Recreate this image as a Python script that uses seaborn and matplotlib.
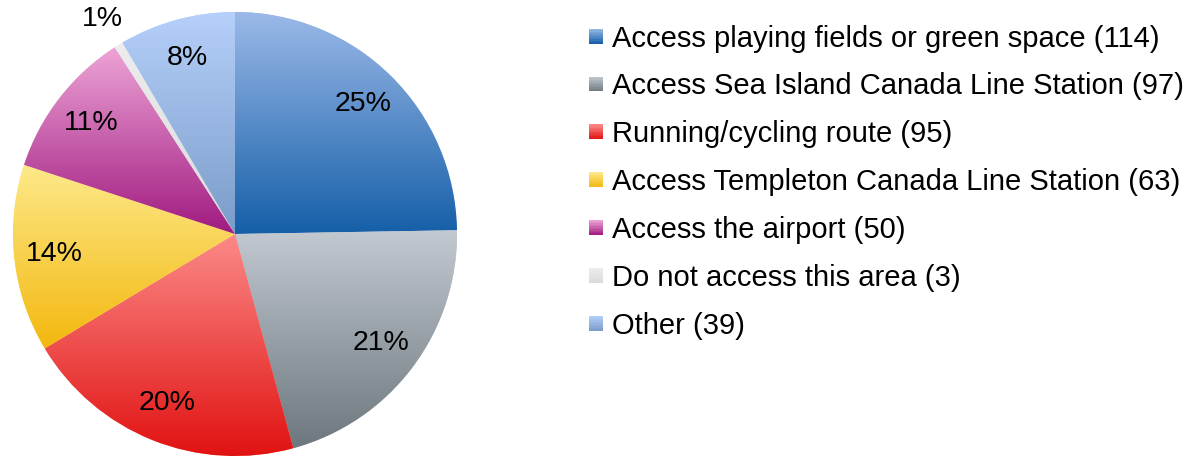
import matplotlib
matplotlib.use("Agg")
import matplotlib.pyplot as plt
import numpy as np
import seaborn as sns
from matplotlib.patches import Rectangle
from matplotlib.legend_handler import HandlerBase

categories = [
    "Access playing fields or green space",
    "Access Sea Island Canada Line Station",
    "Running/cycling route",
    "Access Templeton Canada Line Station",
    "Access the airport",
    "Do not access this area",
    "Other",
]
counts = [114, 97, 95, 63, 50, 3, 39]
pct_labels = ["25%", "21%", "20%", "14%", "11%", "1%", "8%"]
top_colors = ["#9BB9E8", "#C3C9D0", "#FB8A88", "#FDE98A", "#EDA4D6", "#EDEDED", "#B5D0FA"]
bottom_colors = ["#155FA8", "#6C777E", "#E0100F", "#F3B80F", "#A01A80", "#DADADA", "#7A9CC8"]

sns.set_theme(style="white")
plt.rcParams["font.family"] = ["Liberation Sans", "DejaVu Sans"]
plt.rcParams["text.color"] = "black"

W, H = 1201, 457
fig = plt.figure(figsize=(W / 100, H / 100), dpi=100)
ax = fig.add_axes([13 / W, 1 / H, 444 / W, 444 / H])

cmaps = [sns.blend_palette([t, b], n_colors=256, as_cmap=True)
         for t, b in zip(top_colors, bottom_colors)]

wedges, _ = ax.pie(counts, startangle=90, counterclock=False, radius=1,
                   colors=top_colors, wedgeprops=dict(linewidth=0))

grad = np.linspace(0, 1, 256).reshape(-1, 1)
for w, cm in zip(wedges, cmaps):
    verts = w.get_patch_transform().transform(w.get_path().vertices)
    x0, y0 = verts.min(axis=0)
    x1, y1 = verts.max(axis=0)
    im = ax.imshow(grad, cmap=cm, extent=[x0, x1, y0, y1], origin="upper",
                   aspect="auto", interpolation="bilinear", zorder=2)
    im.set_clip_path(w)

# percentage labels
for w, lab, n in zip(wedges, pct_labels, counts):
    mid = np.deg2rad((w.theta1 + w.theta2) / 2)
    r = 1.135 if n / sum(counts) < 0.02 else 0.82
    ax.text(r * np.cos(mid), r * np.sin(mid), lab, ha="center", va="center",
            fontsize=20.5, color="black", zorder=3)

ax.set_xlim(-1, 1)
ax.set_ylim(-1, 1)
ax.set_aspect("equal")
ax.axis("off")


class GradientHandler(HandlerBase):
    def __init__(self, cmap):
        super().__init__()
        self.cmap = cmap

    def create_artists(self, legend, orig_handle, xdescent, ydescent,
                       width, height, fontsize, trans):
        n = 10
        side = min(width, height)
        x = -xdescent + (width - side)
        y = -ydescent + (height - side) / 2
        arts = []
        for i in range(n):
            c = self.cmap(1 - (i + 0.5) / n)
            arts.append(Rectangle((x, y + side * i / n), side, side / n + 0.2,
                                  facecolor=c, edgecolor="none", transform=trans))
        return arts


handles = [Rectangle((0, 0), 1, 1) for _ in categories]
labels = [f"{c} ({n})" for c, n in zip(categories, counts)]
fig.legend(handles, labels, loc="upper left",
           bbox_to_anchor=(577 / W, 1 - 13 / H), frameon=False,
           fontsize=21, handlelength=0.5, handleheight=0.5,
           handletextpad=0.3, labelspacing=0.68, borderaxespad=0,
           labelcolor="black",
           handler_map={h: GradientHandler(cm) for h, cm in zip(handles, cmaps)})

fig.savefig("out.png", dpi=100)
